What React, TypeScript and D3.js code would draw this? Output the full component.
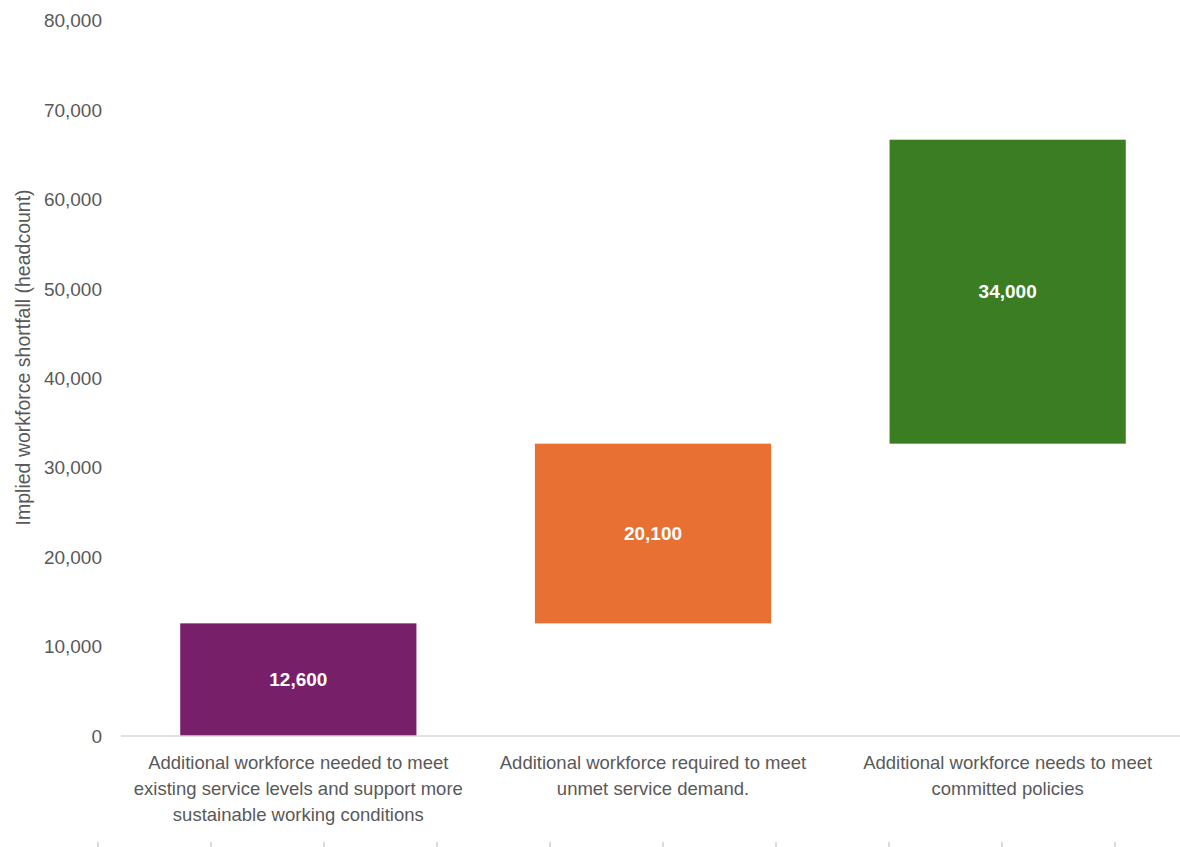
import React from "react";
import * as d3 from "d3";

const categories: string[][] = [
  ["Additional workforce needed to meet", "existing service levels and support more", "sustainable working conditions"],
  ["Additional workforce required to meet", "unmet service demand."],
  ["Additional workforce needs to meet", "committed policies"],
];
const values: number[] = [12600, 20100, 34000];
const valueLabels: string[] = ["12,600", "20,100", "34,000"];
const colors: string[] = ["#771F69", "#E87033", "#3B7D23"];
const yTicks: number[] = [0, 10000, 20000, 30000, 40000, 50000, 60000, 70000, 80000];
const yTitle = "Implied workforce shortfall (headcount)";

const W = 1180;
const H = 847;

export default function App() {
  const y = d3.scaleLinear().domain([0, 80000]).range([736, 20.8]);
  const x = d3
    .scaleBand<number>()
    .domain(values.map((_, i) => i))
    .range([121, 1185])
    .paddingInner(0.334)
    .paddingOuter(0.167);

  let cum = 0;
  const bars = values.map((v, i) => {
    const start = cum;
    cum += v;
    return { i, start, end: cum, v };
  });

  const fmt = d3.format(",");
  const bottomTicks = d3.range(98, W, 113);

  return (
    <svg
      width={W}
      height={H}
      style={{ position: "absolute", left: 0, top: 0, background: "#fff" }}
      fontFamily="'Liberation Sans', Arial, sans-serif"
    >
      {/* y tick labels */}
      {yTicks.map((t) => (
        <text
          key={t}
          x={102}
          y={y(t)}
          dy="0.35em"
          textAnchor="end"
          fontSize={19}
          fill="#595959"
        >
          {fmt(t)}
        </text>
      ))}
      {/* y title */}
      <text
        transform={`translate(23, ${(y(0) + y(80000)) / 2 - 21}) rotate(-90)`}
        textAnchor="middle"
        dy="0.35em"
        fontSize={19.5}
        fill="#595959"
      >
        {yTitle}
      </text>
      {/* bars */}
      {bars.map((b) => (
        <g key={b.i}>
          <rect
            x={x(b.i)!}
            y={y(b.end)}
            width={x.bandwidth()}
            height={y(b.start) - y(b.end)}
            fill={colors[b.i]}
          />
          <text
            x={x(b.i)! + x.bandwidth() / 2}
            y={(y(b.start) + y(b.end)) / 2}
            dy="0.35em"
            textAnchor="middle"
            fontSize={19}
            fontWeight="bold"
            fill="#ffffff"
          >
            {valueLabels[b.i]}
          </text>
        </g>
      ))}
      {/* x axis line */}
      <line x1={121} x2={W} y1={y(0)} y2={y(0)} stroke="#d9d9d9" strokeWidth={1.5} />
      {/* category labels */}
      {categories.map((lines, i) => (
        <text
          key={i}
          x={x(i)! + x.bandwidth() / 2}
          y={763}
          textAnchor="middle"
          fontSize={18.5}
          fill="#595959"
        >
          {lines.map((l, j) => (
            <tspan key={j} x={x(i)! + x.bandwidth() / 2} dy={j === 0 ? "0.35em" : 26}>
              {l}
            </tspan>
          ))}
        </text>
      ))}
      {/* faint bottom ticks */}
      {bottomTicks.map((t) => (
        <line key={t} x1={t} x2={t} y1={842} y2={847} stroke="#cfcfcf" strokeWidth={1.5} />
      ))}
    </svg>
  );
}
